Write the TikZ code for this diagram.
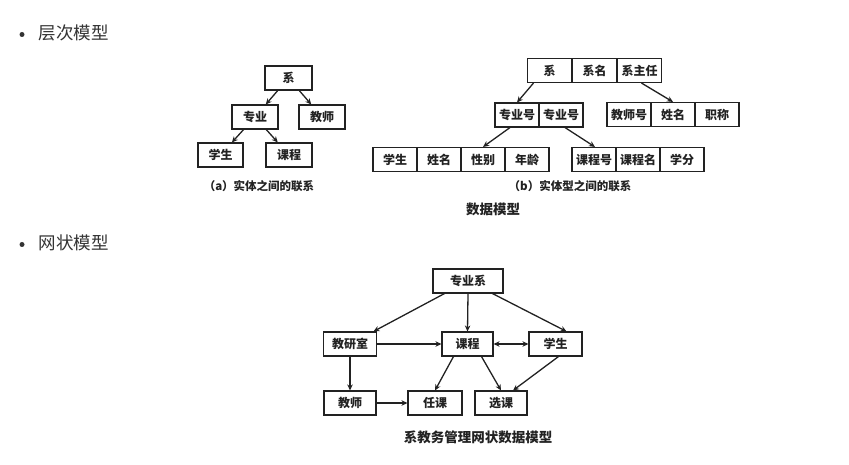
\documentclass[tikz,border=0pt]{standalone}
\usepackage{fontspec}
\newfontfamily\cjk{Noto Sans CJK SC}
\usetikzlibrary{positioning,arrows.meta}
\definecolor{inkdark}{HTML}{222222}
\definecolor{pagetext}{HTML}{333333}

\begin{document}
\begin{tikzpicture}[
    x=1pt,y=-1pt,
    >={Stealth[length=6pt,width=5.5pt]},
    every node/.style={font=\cjk},
    entbox/.style={
        draw=inkdark,
        line width=1.1pt,
        minimum height=24pt,
        inner sep=2pt,
        text=inkdark,
        font=\cjk\bfseries\fontsize{12}{13}\selectfont,
    },
    cell/.style={entbox, minimum width=44pt},
    arr/.style={->,line width=1.3pt,color=inkdark},
    dblarr/.style={<->,line width=1.3pt,color=inkdark},
    caption/.style={font=\cjk\bfseries\fontsize{11.5}{12}\selectfont,text=inkdark},
    bigcaption/.style={font=\cjk\bfseries\fontsize{13.5}{14}\selectfont,text=inkdark},
    bullettext/.style={font=\cjk\fontsize{17.5}{20}\selectfont,text=pagetext,anchor=west},
]
\useasboundingbox (0,0) rectangle (849,465);

% === Bullets ===
\fill[pagetext] (22,34.5) circle (2.5);
\node[bullettext] (hier) at (35,33) {层次模型};
\fill[pagetext] (22,244.5) circle (2.5);
\node[bullettext] (net) at (35,243) {网状模型};

% === (a) entities ===
\node[entbox,minimum width=47pt] (xi) at (288.5,78) {系};
\node[entbox,minimum width=46pt] (zy) at (255,117) {专业};
\node[entbox,minimum width=46pt] (js) at (322,117) {教师};
\node[entbox,minimum width=45pt] (xs) at (220.5,155) {学生};
\node[entbox,minimum width=46pt] (kc) at (289,155) {课程};

\draw[arr] (xi) -- (zy);
\draw[arr] (xi) -- (js);
\draw[arr] (zy) -- (xs);
\draw[arr] (zy) -- (kc);

\node[caption] (capa) at (259,186) {（a）实体之间的联系};

% === (b) entity types ===
\node[cell] (bxi) at (549.5,70.5) {系};
\node[cell] (bxm) at (594.5,70.5) {系名};
\node[cell] (bxzr) at (639.5,70.5) {系主任};

\node[cell] (zyh1) at (517,115) {专业号};
\node[cell] (zyh2) at (561,115) {专业号};

\node[cell] (jsh) at (629,114.5) {教师号};
\node[cell] (jsxm) at (673,114.5) {姓名};
\node[cell] (jszc) at (717,114.5) {职称};

\node[cell] (bxs) at (395,159.5) {学生};
\node[cell] (xsxm) at (439,159.5) {姓名};
\node[cell] (xsxb) at (483,159.5) {性别};
\node[cell] (xsnl) at (527,159.5) {年龄};

\node[cell] (kch) at (594,159.5) {课程号};
\node[cell] (kcm) at (638,159.5) {课程名};
\node[cell] (kcxf) at (682,159.5) {学分};

\draw[arr] ([xshift=-16pt]bxi.south) -- (zyh1.north);
\draw[arr] ([xshift=2pt]bxzr.south) -- (jsxm.north);
\draw[arr] ([xshift=-7pt]zyh1.south) -- (xsxb.north);
\draw[arr] ([xshift=4pt]zyh2.south) -- ([xshift=1pt]kch.north);

\node[caption] (capb) at (570,186) {（b）实体型之间的联系};
\node[bigcaption] (capdm) at (493,209) {数据模型};

% === Network model ===
\node[entbox,minimum width=70pt] (nzyx) at (468,281) {专业系};
\node[entbox,minimum width=53pt] (njys) at (350,344) {教研室};
\node[entbox,minimum width=51pt] (nkc) at (467.5,344) {课程};
\node[entbox,minimum width=53pt] (nxs) at (555.5,344) {学生};
\node[entbox,minimum width=52pt] (njs) at (350,403) {教师};
\node[entbox,minimum width=54pt] (nrk) at (435,403) {任课};
\node[entbox,minimum width=52pt] (nxk) at (501,403) {选课};

\draw[arr] (nzyx) -- (njys);
\draw[arr] (nzyx.south) -- (nkc.north);
\draw[arr] (nzyx) -- ([xshift=11pt]nxs.north);
\draw[arr] (njys) -- (nkc);
\draw[dblarr] (nkc) -- (nxs);
\draw[arr] (njys) -- (njs);
\draw[arr] (njs) -- (nrk);
\draw[arr] ([xshift=-14pt]nkc.south) -- (nrk.north);
\draw[arr] ([xshift=14pt]nkc.south) -- (nxk.north);
\draw[arr] ([xshift=3pt]nxs.south) -- ([xshift=12pt]nxk.north);

\node[bigcaption] (capnet) at (478,437) {系教务管理网状数据模型};

\end{tikzpicture}
\end{document}
